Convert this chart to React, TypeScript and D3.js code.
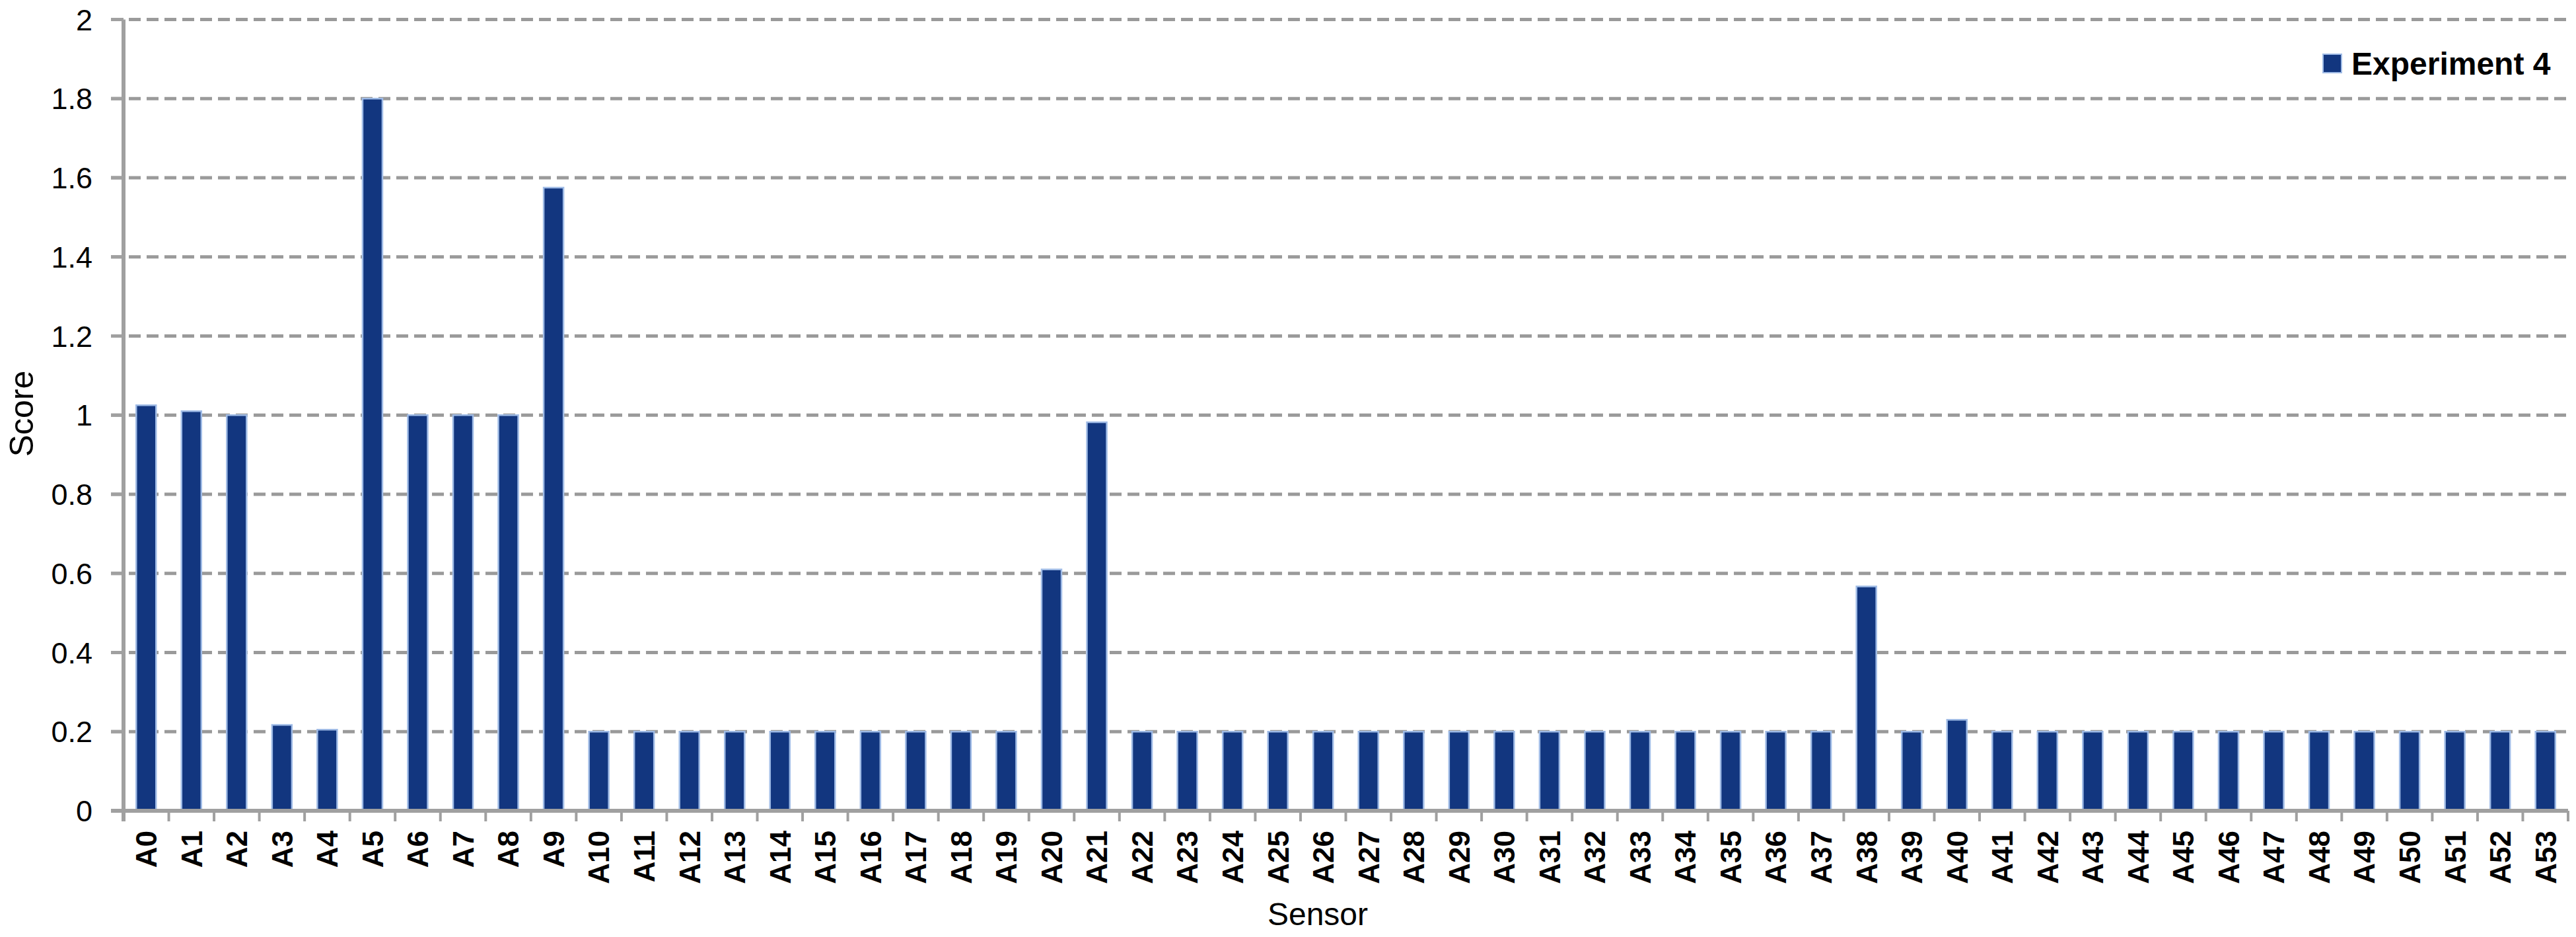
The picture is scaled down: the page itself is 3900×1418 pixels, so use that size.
import React from "react";
import * as d3 from "d3";

const sensors: string[] = Array.from({ length: 54 }, (_, i) => `A${i}`);
const scores: number[] = [
  1.025, 1.01, 1.0, 0.217, 0.205, 1.8, 1.0, 1.0, 1.0, 1.575,
  0.2, 0.2, 0.2, 0.2, 0.2, 0.2, 0.2, 0.2, 0.2, 0.2,
  0.61, 0.982, 0.2, 0.2, 0.2, 0.2, 0.2, 0.2, 0.2, 0.2,
  0.2, 0.2, 0.2, 0.2, 0.2, 0.2, 0.2, 0.2, 0.567, 0.2,
  0.23, 0.2, 0.2, 0.2, 0.2, 0.2, 0.2, 0.2, 0.2, 0.2,
  0.2, 0.2, 0.2, 0.2,
];
const yTicks: number[] = [0, 0.2, 0.4, 0.6, 0.8, 1, 1.2, 1.4, 1.6, 1.8, 2];
const seriesName = "Experiment 4";

const W = 3900;
const H = 1418;
const left = 187;
const right = 3888;
const top = 29.5;
const bottom = 1227;
const font = "'Liberation Sans', Arial, sans-serif";

export default function App() {
  const x = d3.scaleBand<string>().domain(sensors).range([left, right]).paddingInner(0).paddingOuter(0);
  const y = d3.scaleLinear().domain([0, 2]).range([bottom, top]);
  const bw = 30;
  const fmt = (v: number) => (v === 0 ? "0" : d3.format("~g")(v));
  return (
    <svg width={W} height={H} style={{ position: "absolute", left: 0, top: 0, background: "#fff" }}>
      {/* gridlines */}
      {yTicks.filter((t) => t > 0).map((t) => (
        <line key={"g" + t} x1={left - 19} x2={3890} y1={y(t)} y2={y(t)} stroke="#9a9a9a" strokeWidth={5} strokeDasharray="18 9" />
      ))}
      {/* y tick marks */}
      {yTicks.map((t) => (
        <line key={"yt" + t} x1={left - 19} x2={left} y1={y(t)} y2={y(t)} stroke="#a0a0a0" strokeWidth={5} />
      ))}
      {/* bars */}
      {sensors.map((s, i) => {
        const cx = (x(s) as number) + x.bandwidth() / 2;
        return (
          <rect key={s} x={cx - bw / 2} y={y(scores[i])} width={bw} height={bottom - y(scores[i])}
            fill="#12367f" stroke="#9fbbe6" strokeWidth={2.5} />
        );
      })}
      {/* axes */}
      <line x1={left} x2={left} y1={top} y2={bottom + 16} stroke="#a0a0a0" strokeWidth={6} />
      <line x1={left - 19} x2={right} y1={bottom} y2={bottom} stroke="#a0a0a0" strokeWidth={6} />
      {sensors.map((s) => (
        <line key={"xt" + s} x1={(x(s) as number) + x.bandwidth()} x2={(x(s) as number) + x.bandwidth()}
          y1={bottom} y2={bottom + 16} stroke="#a0a0a0" strokeWidth={4} />
      ))}
      {/* y tick labels */}
      {yTicks.map((t) => (
        <text key={"yl" + t} x={140} y={y(t)} dy="0.36em" textAnchor="end" fontFamily={font} fontSize={45} fill="#000">
          {fmt(t)}
        </text>
      ))}
      {/* x tick labels */}
      {sensors.map((s) => {
        const cx = (x(s) as number) + x.bandwidth() / 2;
        return (
          <text key={"xl" + s} transform={`translate(${cx},1257) rotate(-90)`} textAnchor="end" dy="0.36em"
            fontFamily={font} fontSize={44} fontWeight="bold" fill="#000">
            {s}
          </text>
        );
      })}
      {/* axis titles */}
      <text x={1995} y={1400} textAnchor="middle" fontFamily={font} fontSize={48} fill="#000">Sensor</text>
      <text transform="translate(32,626) rotate(-90)" textAnchor="middle" dy="0.36em" fontFamily={font} fontSize={50} fill="#000">Score</text>
      {/* legend */}
      <rect x={3517} y={82} width={28} height={28} fill="#12367f" stroke="#9fbbe6" strokeWidth={2} />
      <text x={3560} y={96} dy="0.36em" fontFamily={font} fontSize={48} fontWeight="bold" fill="#000">{seriesName}</text>
    </svg>
  );
}
